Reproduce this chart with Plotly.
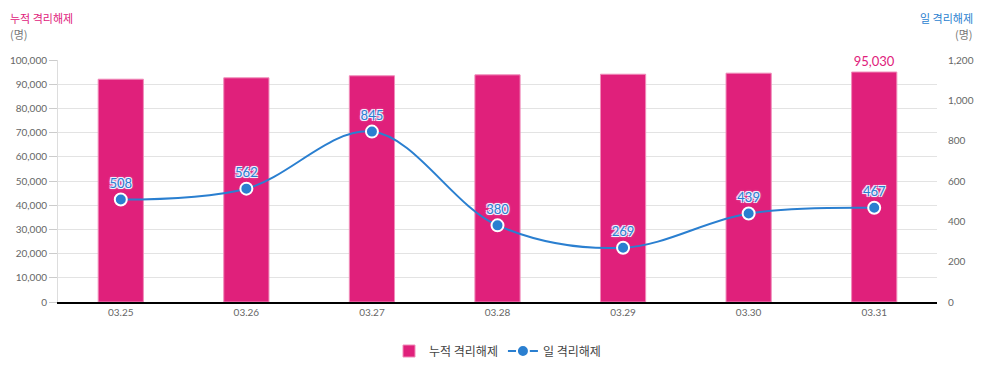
import plotly.graph_objects as go

dates = ["03.25", "03.26", "03.27", "03.28", "03.29", "03.30", "03.31"]
cumulative = [92068, 92630, 93475, 93855, 94124, 94563, 95030]
daily = [508, 562, 845, 380, 269, 439, 467]

PINK = "#e0207b"
BLUE = "#2a7fd0"
FONT = "Lato, 'Noto Sans CJK KR', sans-serif"
KFONT = "'Noto Sans CJK KR', Lato, sans-serif"

# page has an 8px body margin; compensate so the chart sits where the reference does
OFF = 8
W, H = 983 - OFF, 368 - OFF
ML, MR, MT, MB = 58 - OFF, 46, 60 - OFF, 66
pw, ph = W - ML - MR, H - MT - MB


def px(x):
    return (x - OFF - ML) / pw


def py(y):
    return (H - MB - (y - OFF)) / ph


fig = go.Figure()
fig.add_trace(go.Bar(
    x=dates, y=cumulative, name="누적 격리해제",
    marker=dict(color=PINK, line=dict(color="#f08cba", width=1)),
    width=0.36,
    text=[""] * (len(cumulative) - 1) + [f"{cumulative[-1]:,}"],
    textposition="outside", cliponaxis=False,
    textfont=dict(color=PINK, size=13, family=FONT),
    hoverinfo="skip",
))
fig.add_trace(go.Scatter(
    x=dates, y=daily, name="일 격리해제", yaxis="y2",
    mode="lines+markers+text",
    line=dict(color=BLUE, width=2, shape="spline", smoothing=1.0),
    marker=dict(size=12, color=BLUE, line=dict(color="white", width=2)),
    text=[str(v) for v in daily], textposition="top center",
    textfont=dict(color=BLUE, size=13, family=FONT,
                  shadow="-1px -1px 0 #eef0ff, 1px -1px 0 #eef0ff, -1px 1px 0 #eef0ff, 1px 1px 0 #eef0ff, 0 0 3px #fff"),
    cliponaxis=False,
))

fig.update_layout(
    width=W, height=H,
    margin=dict(l=ML, r=MR, t=MT, b=MB, autoexpand=False),
    plot_bgcolor="white", paper_bgcolor="white",
    font=dict(family=FONT, color="#666", size=11),
    showlegend=True,
    legend=dict(orientation="h", x=0.5, xanchor="center", y=py(351), yanchor="middle",
                font=dict(family=KFONT, size=12, color="#444"), itemwidth=30),
    xaxis=dict(showline=True, linecolor="#000", linewidth=1.5, ticks="",
               tickfont=dict(size=10, color="#666"), showgrid=False, fixedrange=True),
    yaxis=dict(range=[0, 100000], dtick=10000, tickformat=",", showgrid=True,
               gridcolor="#e3e3e3", showline=True, linecolor="#ddd", ticks="outside",
               ticklen=8, tickcolor="#ccc", tickfont=dict(size=10, color="#666"),
               zeroline=False),
    yaxis2=dict(range=[0, 1200], dtick=200, tickformat=",", overlaying="y", side="right",
                showgrid=False, showline=False, ticks="outside", ticklen=8,
                tickcolor="rgba(0,0,0,0)", tickfont=dict(size=10, color="#666"),
                zeroline=False),
)
fig.add_annotation(text="누적 격리해제", x=px(8), y=py(18), xref="paper", yref="paper",
                   showarrow=False, xanchor="left", yanchor="middle",
                   font=dict(family=KFONT, size=11, color=PINK))
fig.add_annotation(text="(명)", x=px(8), y=py(34), xref="paper", yref="paper",
                   showarrow=False, xanchor="left", yanchor="middle",
                   font=dict(family=KFONT, size=11, color="#777"))
fig.add_annotation(text="일 격리해제", x=px(975), y=py(18), xref="paper", yref="paper",
                   showarrow=False, xanchor="right", yanchor="middle",
                   font=dict(family=KFONT, size=11, color=BLUE))
fig.add_annotation(text="(명)", x=px(975), y=py(34), xref="paper", yref="paper",
                   showarrow=False, xanchor="right", yanchor="middle",
                   font=dict(family=KFONT, size=11, color="#777"))

fig.write_html("out.html")
